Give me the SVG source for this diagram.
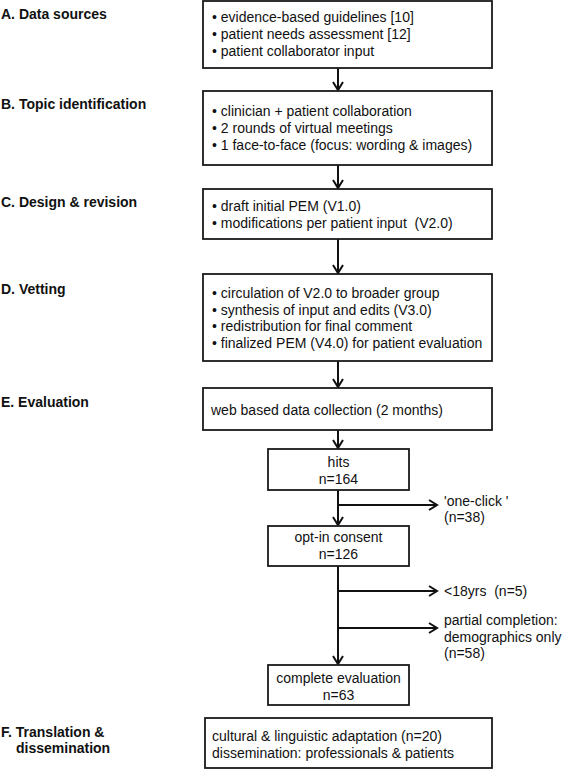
<svg xmlns="http://www.w3.org/2000/svg" width="567" height="770" viewBox="0 0 567 770">
<style>
.box{fill:#fff;stroke:#1a1a1a;stroke-width:1.8}
.t{font-family:"Liberation Sans",Arial,sans-serif;font-size:14px;fill:#111}
.c{text-anchor:middle}
.lab{font-family:"Liberation Sans",Arial,sans-serif;font-size:14px;font-weight:bold;fill:#111}
.ln{fill:none;stroke:#111;stroke-width:2}
</style>
<defs>
<marker id="ah" markerUnits="userSpaceOnUse" markerWidth="14" markerHeight="14" refX="9" refY="6" orient="auto">
<path d="M1,1 L9,6 L1,11" fill="none" stroke="#111" stroke-width="2"/>
</marker>
</defs>
<rect width="567" height="770" fill="#fff"/>

<g id="labels">
<text class="lab" x="1" y="19">A. Data sources</text>
<text class="lab" x="1" y="109">B. Topic identification</text>
<text class="lab" x="1" y="207">C. Design &amp; revision</text>
<text class="lab" x="1" y="294">D. Vetting</text>
<text class="lab" x="1" y="407">E. Evaluation</text>
<text class="lab" x="1" y="737">F. Translation &amp;</text>
<text class="lab" x="16" y="753">dissemination</text>
</g>

<g id="connectors">
<line class="ln" x1="338" y1="68" x2="338" y2="90" marker-end="url(#ah)"/>
<line class="ln" x1="338" y1="165" x2="338" y2="188" marker-end="url(#ah)"/>
<line class="ln" x1="338" y1="239" x2="338" y2="273" marker-end="url(#ah)"/>
<line class="ln" x1="338" y1="361" x2="338" y2="387" marker-end="url(#ah)"/>
<line class="ln" x1="338" y1="430" x2="338" y2="448" marker-end="url(#ah)"/>
<line class="ln" x1="338" y1="490" x2="338" y2="525" marker-end="url(#ah)"/>
<line class="ln" x1="338" y1="505" x2="437" y2="505" marker-end="url(#ah)"/>
<line class="ln" x1="338" y1="566" x2="338" y2="664" marker-end="url(#ah)"/>
<line class="ln" x1="338" y1="591" x2="437" y2="591" marker-end="url(#ah)"/>
<line class="ln" x1="338" y1="628" x2="437" y2="628" marker-end="url(#ah)"/>
</g>

<g id="nodeA">
<rect class="box" x="203" y="1" width="289" height="67"/>
<text class="t" x="212" y="22">• evidence-based guidelines [10]</text>
<text class="t" x="212" y="39">• patient needs assessment [12]</text>
<text class="t" x="212" y="56">• patient collaborator input</text>
</g>
<g id="nodeB">
<rect class="box" x="203" y="91" width="289" height="74"/>
<text class="t" x="212" y="116">• clinician + patient collaboration</text>
<text class="t" x="212" y="133">• 2 rounds of virtual meetings</text>
<text class="t" x="212" y="150">• 1 face-to-face (focus: wording &amp; images)</text>
</g>
<g id="nodeC">
<rect class="box" x="203" y="189" width="289" height="50"/>
<text class="t" x="212" y="211">• draft initial PEM (V1.0)</text>
<text class="t" x="212" y="228" xml:space="preserve">• modifications per patient input  (V2.0)</text>
</g>
<g id="nodeD">
<rect class="box" x="203" y="274" width="289" height="87"/>
<text class="t" x="212" y="298">• circulation of V2.0 to broader group</text>
<text class="t" x="212" y="314.5">• synthesis of input and edits (V3.0)</text>
<text class="t" x="212" y="331">• redistribution for final comment</text>
<text class="t" x="212" y="347.5">• finalized PEM (V4.0) for patient evaluation</text>
</g>
<g id="nodeE">
<rect class="box" x="203" y="388" width="289" height="42"/>
<text class="t" x="211" y="415">web based data collection (2 months)</text>
</g>
<g id="nodeHits">
<rect class="box" x="268" y="449" width="141" height="41"/>
<text class="t c" x="338.5" y="467">hits</text>
<text class="t c" x="338.5" y="484">n=164</text>
</g>
<g id="nodeOneClick">
<text class="t" x="444" y="506">'one-click '</text>
<text class="t" x="444" y="522">(n=38)</text>
</g>
<g id="nodeOptIn">
<rect class="box" x="268" y="526" width="141" height="40"/>
<text class="t c" x="338.5" y="542">opt-in consent</text>
<text class="t c" x="338.5" y="559">n=126</text>
</g>
<g id="nodeUnder18">
<text class="t" x="444" y="596" xml:space="preserve">&lt;18yrs  (n=5)</text>
</g>
<g id="nodePartial">
<text class="t" x="444" y="625">partial completion:</text>
<text class="t" x="444" y="642">demographics only</text>
<text class="t" x="444" y="658">(n=58)</text>
</g>
<g id="nodeComplete">
<rect class="box" x="268" y="665" width="141" height="40"/>
<text class="t c" x="338.5" y="683">complete evaluation</text>
<text class="t c" x="338.5" y="700">n=63</text>
</g>
<g id="nodeF">
<rect class="box" x="205" y="718" width="287" height="50"/>
<text class="t" x="212" y="741">cultural &amp; linguistic adaptation (n=20)</text>
<text class="t" x="212" y="758">dissemination: professionals &amp; patients</text>
</g>
</svg>
